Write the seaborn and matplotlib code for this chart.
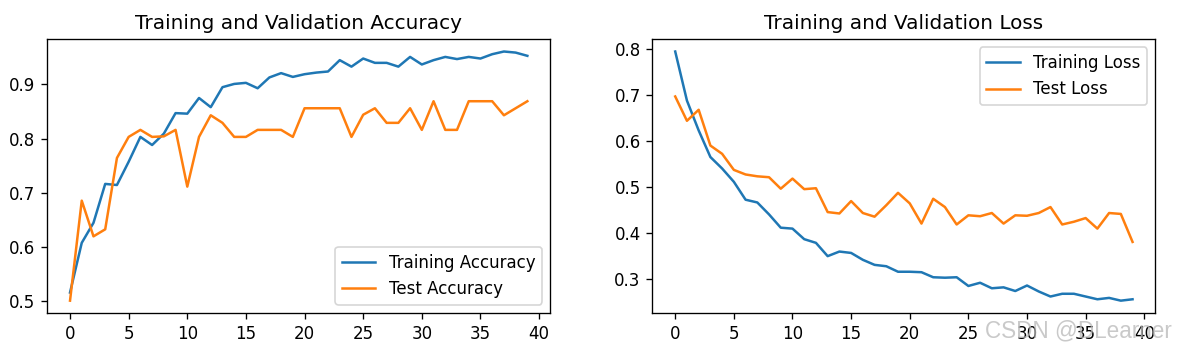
import numpy as np
import pandas as pd
import seaborn as sns
import matplotlib
matplotlib.use('Agg')
import matplotlib.pyplot as plt

epochs = list(range(40))

train_acc = [0.515, 0.607, 0.644, 0.716, 0.714, 0.757, 0.803, 0.788, 0.809, 0.847,
             0.846, 0.875, 0.858, 0.895, 0.901, 0.903, 0.893, 0.913, 0.921, 0.914,
             0.919, 0.922, 0.924, 0.945, 0.933, 0.948, 0.940, 0.940, 0.933, 0.951,
             0.937, 0.945, 0.951, 0.947, 0.951, 0.948, 0.956, 0.961, 0.959, 0.953]
test_acc = [0.500, 0.685, 0.619, 0.632, 0.764, 0.803, 0.816, 0.803, 0.804, 0.816,
            0.711, 0.803, 0.843, 0.829, 0.803, 0.803, 0.816, 0.816, 0.816, 0.803,
            0.856, 0.856, 0.856, 0.856, 0.803, 0.844, 0.856, 0.829, 0.829, 0.856,
            0.816, 0.869, 0.816, 0.816, 0.869, 0.869, 0.869, 0.843, 0.856, 0.869]

train_loss = [0.795, 0.688, 0.623, 0.565, 0.540, 0.511, 0.472, 0.466, 0.440, 0.411,
              0.409, 0.386, 0.378, 0.349, 0.359, 0.356, 0.341, 0.330, 0.327, 0.315,
              0.315, 0.314, 0.303, 0.302, 0.303, 0.284, 0.291, 0.279, 0.281, 0.273,
              0.285, 0.272, 0.261, 0.267, 0.267, 0.261, 0.255, 0.258, 0.252, 0.255]
test_loss = [0.697, 0.644, 0.668, 0.590, 0.572, 0.537, 0.527, 0.523, 0.521, 0.496,
             0.518, 0.495, 0.497, 0.445, 0.442, 0.469, 0.443, 0.435, 0.460, 0.487,
             0.464, 0.420, 0.474, 0.456, 0.418, 0.438, 0.436, 0.443, 0.420, 0.438,
             0.437, 0.443, 0.456, 0.418, 0.424, 0.432, 0.409, 0.443, 0.441, 0.380]

# figure rendered at 120 dpi so fonts/lines come out a bit bigger, like the reference
fig, (ax1, ax2) = plt.subplots(1, 2, figsize=(1179 / 120, 355 / 120), dpi=120)
plt.subplots_adjust(left=0.040, right=0.980, top=0.890, bottom=0.118, wspace=0.203)

# accuracy
sns.lineplot(x=epochs, y=train_acc, label='Training Accuracy', ax=ax1, color='#1f77b4')
sns.lineplot(x=epochs, y=test_acc, label='Test Accuracy', ax=ax1, color='#ff7f0e')
ax1.legend(loc='lower right')
ax1.set_title('Training and Validation Accuracy')

# loss
sns.lineplot(x=epochs, y=train_loss, label='Training Loss', ax=ax2, color='#1f77b4')
sns.lineplot(x=epochs, y=test_loss, label='Test Loss', ax=ax2, color='#ff7f0e')
ax2.legend(loc='upper right')
ax2.set_title('Training and Validation Loss')

# watermark
fig.text(0.994, 0.035, 'CSDN @DLearner', ha='right', va='bottom',
         fontsize=13.5, family='Liberation Sans', color='#b8b8b8', alpha=0.75)

fig.savefig('out.png', dpi=120)
